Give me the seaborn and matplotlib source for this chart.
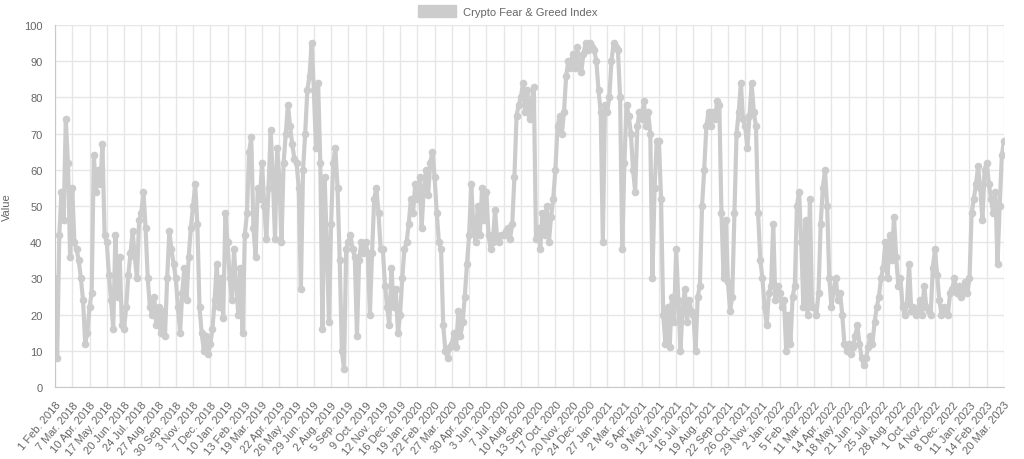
import numpy as np
import pandas as pd
import matplotlib
matplotlib.use('Agg')
import matplotlib.pyplot as plt
import seaborn as sns
from matplotlib.patches import Patch

# Fear & Greed readings, 8 per label step (one label every 34 days)
fgi_feb2018_jan2019 = [
    30, 8, 42, 54, 46, 74, 62, 36,
    55, 40, 38, 35, 30, 24, 12, 15,
    22, 26, 64, 54, 60, 56, 67, 42,
    40, 31, 24, 16, 42, 25, 36, 17,
    16, 22, 31, 37, 43, 36, 30, 46,
    48, 54, 44, 30, 22, 20, 25, 17,
    22, 15, 21, 14, 30, 43, 38, 34,
    30, 22, 15, 26, 33, 24, 36, 44,
    50, 56, 45, 22, 15, 10, 14, 9,
    12, 16, 24, 34, 22, 30, 19, 48,
]
fgi_jan2019_jan2020 = [
    40, 30, 24, 38, 28, 20, 33, 15,
    42, 48, 65, 69, 44, 36, 55, 52,
    62, 50, 41, 55, 71, 58, 41, 66,
    58, 40, 62, 70, 78, 72, 67, 63,
    62, 55, 27, 60, 70, 82, 86, 95,
    82, 66, 84, 62, 16, 58, 40, 18,
    45, 62, 66, 55, 35, 10, 5, 38,
    40, 42, 38, 36, 14, 35, 40, 37,
    40, 37, 20, 37, 52, 55, 48, 38,
    38, 28, 22, 17, 33, 22, 27, 15,
    20, 30, 38, 40, 45, 52, 48, 56,
]
fgi_jan2020_jan2021 = [
    52, 58, 44, 55, 60, 53, 62, 65,
    58, 48, 40, 38, 17, 10, 8, 11,
    12, 15, 11, 21, 14, 18, 25, 34,
    42, 56, 44, 40, 50, 42, 55, 46,
    54, 42, 38, 40, 49, 41, 40, 42,
    42, 43, 44, 41, 45, 58, 75, 78,
    80, 84, 76, 82, 74, 79, 83, 41,
    44, 38, 48, 42, 50, 40, 47, 52,
    60, 72, 75, 70, 76, 86, 90, 88,
    92, 88, 94, 90, 87, 92, 95, 93,
    95, 94, 93, 90, 82, 76, 40, 78,
]
fgi_jan2021_feb2022 = [
    76, 80, 90, 95, 94, 93, 80, 38,
    62, 78, 75, 70, 60, 54, 72, 76,
    74, 79, 72, 76, 70, 30, 55, 68,
    68, 52, 20, 12, 22, 11, 25, 18,
    38, 24, 10, 22, 27, 18, 24, 21,
    20, 10, 25, 28, 50, 60, 72, 76,
    72, 76, 74, 79, 78, 48, 30, 46,
    29, 21, 25, 48, 70, 76, 84, 74,
    72, 66, 75, 84, 76, 72, 48, 35,
    30, 22, 17, 26, 28, 45, 24, 28,
    26, 22, 24, 10, 20, 12, 25, 28,
]
fgi_feb2022_mar2023 = [
    50, 54, 40, 22, 46, 20, 52, 22,
    22, 20, 26, 45, 55, 60, 50, 30,
    22, 27, 30, 24, 26, 20, 12, 10,
    12, 9, 11, 14, 17, 12, 8, 6,
    8, 11, 14, 12, 18, 22, 25, 30,
    33, 40, 30, 42, 35, 47, 36, 28,
    30, 22, 20, 23, 34, 21, 22, 20,
    21, 24, 20, 28, 22, 21, 20, 33,
    38, 31, 24, 20, 22, 21, 20, 26,
    27, 30, 26, 28, 25, 27, 29, 26,
    30, 48, 52, 56, 61, 55, 46, 60,
    62, 56, 52, 48, 54, 34, 50, 64, 68,
]

tick_labels = [
    "1 Feb. 2018", "7 Mar. 2018", "10 Apr. 2018", "17 May. 2018", "20 Jun. 2018",
    "24 Jul. 2018", "27 Aug. 2018", "30 Sep. 2018", "3 Nov. 2018", "7 Dec. 2018",
    "10 Jan. 2019", "13 Feb. 2019", "19 Mar. 2019", "22 Apr. 2019", "26 May. 2019",
    "29 Jun. 2019", "2 Aug. 2019", "5 Sep. 2019", "9 Oct. 2019", "12 Nov. 2019",
    "16 Dec. 2019", "19 Jan. 2020", "22 Feb. 2020", "27 Mar. 2020", "30 Apr. 2020",
    "3 Jun. 2020", "7 Jul. 2020", "10 Aug. 2020", "13 Sep. 2020", "17 Oct. 2020",
    "20 Nov. 2020", "24 Dec. 2020", "27 Jan. 2021", "2 Mar. 2021", "5 Apr. 2021",
    "9 May. 2021", "12 Jun. 2021", "16 Jul. 2021", "19 Aug. 2021", "22 Sep. 2021",
    "26 Oct. 2021", "29 Nov. 2021", "2 Jan. 2022", "5 Feb. 2022", "11 Mar. 2022",
    "14 Apr. 2022", "18 May. 2022", "21 Jun. 2022", "25 Jul. 2022", "28 Aug. 2022",
    "1 Oct. 2022", "4 Nov. 2022", "8 Dec. 2022", "11 Jan. 2023", "14 Feb. 2023",
    "20 Mar. 2023",
]

LABEL_STEP = 34   # days between shown labels
values = (fgi_feb2018_jan2019 + fgi_jan2019_jan2020 + fgi_jan2020_jan2021
          + fgi_jan2021_feb2022 + fgi_feb2022_mar2023)
df = pd.DataFrame({'day': np.arange(len(values)) * LABEL_STEP / 8, 'value': values})

sns.set_style('white')
plt.rcParams['font.family'] = ['Liberation Sans', 'DejaVu Sans']

fig = plt.figure(figsize=(10.24, 4.6), dpi=100)
ax = fig.add_axes([55 / 1024, 1 - 388 / 460, 949 / 1024, 362 / 460])

line_color = '#cccccc'
sns.lineplot(data=df, x='day', y='value', ax=ax, color=line_color, linewidth=3,
             marker='o', markersize=5.5, markeredgewidth=0)

# axes, ticks, grid
last_day = (len(tick_labels) - 1) * LABEL_STEP
ax.set_xlim(0, last_day)
ax.set_ylim(0, 100)
ax.set_xticks(np.arange(len(tick_labels)) * LABEL_STEP)
ax.set_xticklabels(tick_labels, rotation=50, ha='right', rotation_mode='anchor')
ax.set_yticks(np.arange(0, 101, 10))
ax.tick_params(axis='both', labelsize=8, labelcolor='#666666', color='#dddddd',
               length=6, width=1, pad=3)
ax.grid(True, color='#e6e6e6', linewidth=1)
ax.set_axisbelow(True)
for side in ['top', 'right']:
    ax.spines[side].set_visible(False)
for side in ['left', 'bottom']:
    ax.spines[side].set_color('#c8c8c8')

ax.set_xlabel('')
ax.set_ylabel('Value', fontsize=8, color='#666666')
ax.yaxis.set_label_coords(-43 / 949, 0.5)

# legend on top, centred on the canvas
leg = fig.legend(handles=[Patch(facecolor='#cccccc', edgecolor='#cccccc',
                                label='Crypto Fear & Greed Index')],
                 loc='center', bbox_to_anchor=(0.496, 0.974), frameon=False,
                 fontsize=8, handlelength=3.4, handleheight=1.2, handletextpad=0.6)
for t in leg.get_texts():
    t.set_color('#666666')

fig.savefig('out.png', dpi=100)
